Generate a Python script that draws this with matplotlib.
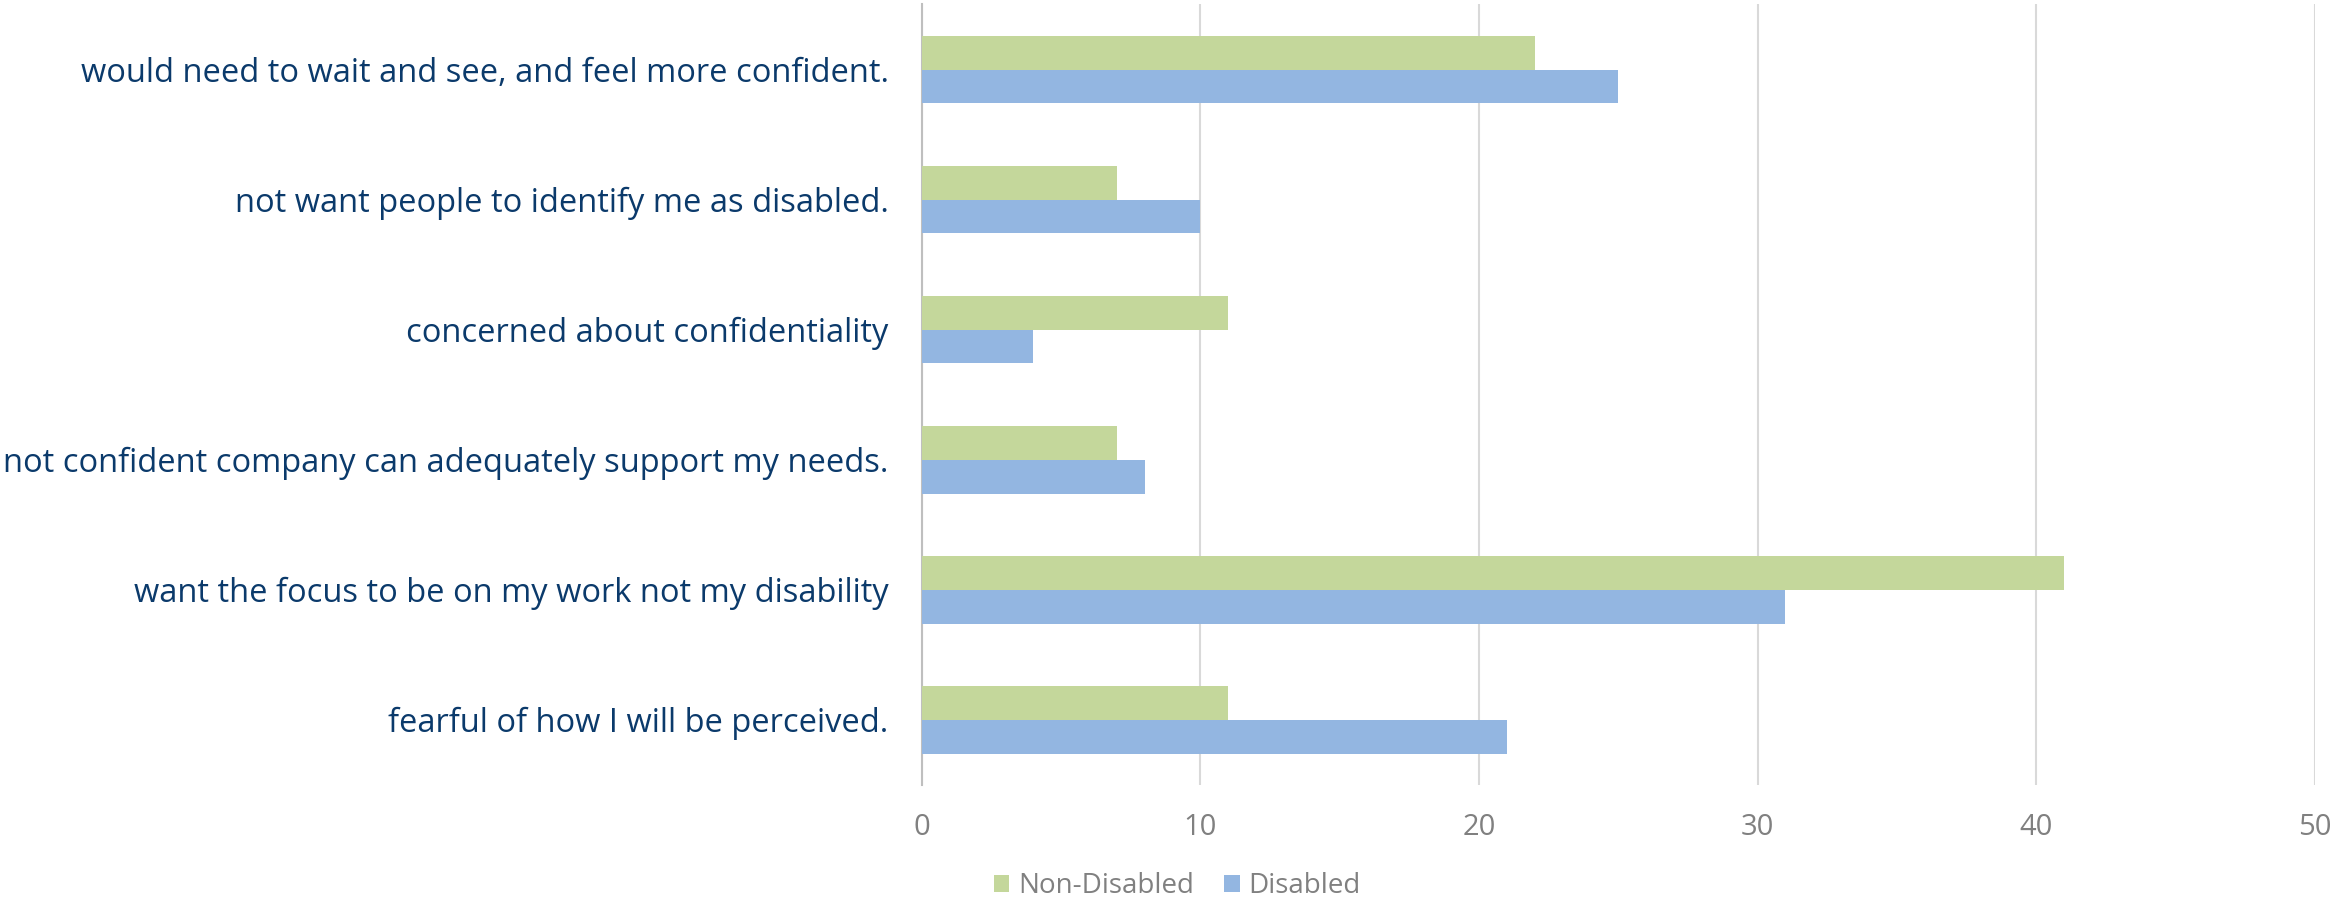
import matplotlib
matplotlib.use("Agg")
import matplotlib.pyplot as plt
import numpy as np

categories = [
    "would need to wait and see, and feel more confident.",
    "not want people to identify me as disabled.",
    "concerned about confidentiality",
    "not confident company can adequately support my needs.",
    "want the focus to be on my work not my disability",
    "fearful of how I will be perceived.",
]
non_disabled = [22, 7, 11, 7, 41, 11]
disabled = [25, 10, 4, 8, 31, 21]
series_names = ["Non-Disabled", "Disabled"]
xticks = [0, 10, 20, 30, 40, 50]

GREEN = "#C4D79B"
BLUE = "#93B6E1"
LABEL = "#0B3A6B"
GREY = "#808080"

plt.rcParams['font.family'] = ['Open Sans', 'DejaVu Sans']

fig = plt.figure(figsize=(23.31, 8.99), dpi=100)
ax = fig.add_axes([0.3955, 0.127, 0.5975, 0.868])

y = np.arange(len(categories))
h = 0.26
ax.barh(y - h / 2, non_disabled, height=h, color=GREEN, label=series_names[0], zorder=3)
ax.barh(y + h / 2, disabled, height=h, color=BLUE, label=series_names[1], zorder=3)

ax.set_ylim(len(categories) - 0.5, -0.5)
ax.set_xlim(0, 50)
ax.set_xticks(xticks)
ax.set_xticklabels([str(t) for t in xticks], color=GREY, fontsize=21)
ax.set_yticks(y)
ax.set_yticklabels(categories, color=LABEL, fontsize=23.5)
ax.tick_params(axis='both', length=0)
ax.tick_params(axis='x', pad=20)
ax.tick_params(axis='y', pad=24)

ax.grid(axis='x', color='#D9D9D9', linewidth=1.5, zorder=0)
for s in ['top', 'right', 'bottom']:
    ax.spines[s].set_visible(False)
ax.spines['left'].set_color('#BFBFBF')
ax.spines['left'].set_linewidth(1.5)

leg = fig.legend(loc='center', bbox_to_anchor=(0.505, 0.0145), ncol=2, frameon=False,
                 fontsize=20, handlelength=0.55, handleheight=0.55, handletextpad=0.3,
                 columnspacing=1.1)
for t in leg.get_texts():
    t.set_color(GREY)

fig.savefig("out.png", dpi=100)
